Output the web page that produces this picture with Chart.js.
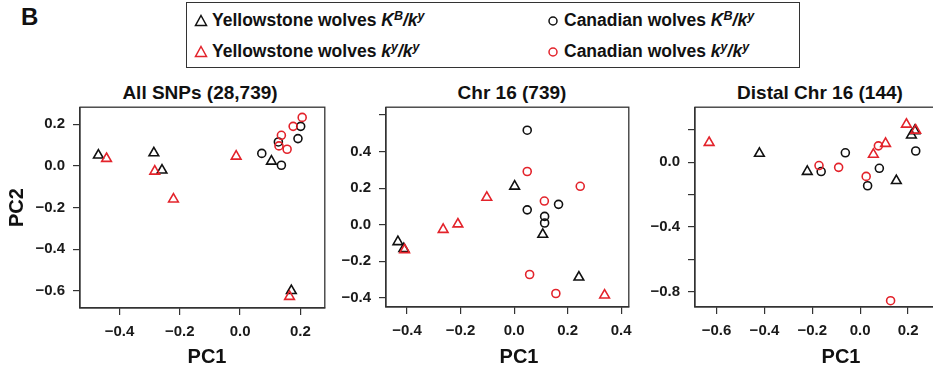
<!DOCTYPE html>
<html>
<head>
<meta charset="utf-8">
<script src="https://cdn.jsdelivr.net/npm/chart.js@4.4.1/dist/chart.umd.min.js"></script>
<style>
  body { margin: 0; width: 933px; height: 372px; overflow: hidden; background: #fff; position: relative;
         font-family: 'Liberation Sans', Arial, sans-serif; color: #111; }
  .abs { position: absolute; }
  .panelTitle { position: absolute; width: 300px; text-align: center; font-weight: bold; font-size: 19px; line-height: 22px; top: 82px; }
  .axisTitle { position: absolute; width: 100px; text-align: center; font-weight: bold; font-size: 20px; line-height: 22px; top: 345px; }
  #letter { left: 21px; top: 5px; font-size: 24px; line-height: 24px; font-weight: bold; }
  #legend { left: 186px; top: 2px; width: 614px; height: 66px; border: 1.5px solid #333; box-sizing: border-box; }
  .item { position: absolute; font-weight: bold; font-size: 17.5px; line-height: 20px; white-space: nowrap; }
  .item svg { position: absolute; left: -18px; top: 4px; }
  .item i sup { font-size: 12.5px; vertical-align: 6px; line-height: 0; }
</style>
</head>
<body>
<div id="letter" class="abs">B</div>
<div id="legend" class="abs">
  <div class="item" style="left:25px; top:7px;">
    <svg width="14" height="13"><polygon points="7,1.5 12.5,11.5 1.5,11.5" fill="none" stroke="#111" stroke-width="1.5"/></svg>
    Yellowstone wolves <i>K<sup>B</sup>/k<sup>y</sup></i></div>
  <div class="item" style="left:25px; top:38px;">
    <svg width="14" height="13"><polygon points="7,1.5 12.5,11.5 1.5,11.5" fill="none" stroke="#e3232b" stroke-width="1.5"/></svg>
    Yellowstone wolves <i>k<sup>y</sup>/k<sup>y</sup></i></div>
  <div class="item" style="left:377px; top:7px;">
    <svg width="14" height="13"><circle cx="7" cy="7" r="4" fill="none" stroke="#111" stroke-width="1.5"/></svg>
    Canadian wolves <i>K<sup>B</sup>/k<sup>y</sup></i></div>
  <div class="item" style="left:377px; top:38px;">
    <svg width="14" height="13"><circle cx="7" cy="7" r="4" fill="none" stroke="#e3232b" stroke-width="1.5"/></svg>
    Canadian wolves <i>k<sup>y</sup>/k<sup>y</sup></i></div>
</div>

<div class="panelTitle" style="left:50px;">All SNPs (28,739)</div>
<div class="panelTitle" style="left:362px;">Chr 16 (739)</div>
<div class="panelTitle" style="left:670px;">Distal Chr 16 (144)</div>

<canvas id="c1" class="abs" width="332" height="272" style="left:0px; top:100px;"></canvas>
<canvas id="c2" class="abs" width="300" height="272" style="left:336px; top:100px;"></canvas>
<canvas id="c3" class="abs" width="304" height="272" style="left:640px; top:100px;"></canvas>

<div class="axisTitle" style="left:157px;">PC1</div>
<div class="axisTitle" style="left:469px;">PC1</div>
<div class="axisTitle" style="left:791px;">PC1</div>

<script>
// ---- data: [PC1, PC2] per sample ----
// All SNPs (28,739)
const allYellowKB = [[-0.470, 0.051], [-0.286, 0.062], [-0.259, -0.021], [0.104, 0.022], [0.170, -0.600]];
const allYellowKY = [[-0.443, 0.035], [-0.283, -0.026], [-0.221, -0.160], [-0.013, 0.046], [0.164, -0.628]];
const allCanadaKB = [[0.072, 0.060], [0.127, 0.115], [0.137, 0.003], [0.192, 0.131], [0.201, 0.190]];
const allCanadaKY = [[0.129, 0.096], [0.137, 0.147], [0.156, 0.080], [0.176, 0.190], [0.206, 0.233]];

// Chr 16 (739)
const chrYellowKB = [[0.002, 0.210], [0.107, -0.054], [-0.434, -0.094], [0.242, -0.288], [-0.412, -0.132]];
const chrYellowKY = [[-0.102, 0.149], [-0.265, -0.027], [-0.210, 0.003], [-0.409, -0.138], [0.338, -0.386]];
const chrCanadaKB = [[0.049, 0.517], [0.166, 0.111], [0.049, 0.081], [0.114, 0.045], [0.114, 0.009]];
const chrCanadaKY = [[0.049, 0.291], [0.247, 0.210], [0.113, 0.129], [0.058, -0.273], [0.156, -0.377]];

// Distal Chr 16 (144)
const distYellowKB = [[-0.421, 0.055], [-0.221, -0.057], [0.151, -0.114], [0.214, 0.168], [0.228, 0.195]];
const distYellowKY = [[-0.631, 0.122], [0.055, 0.049], [0.106, 0.116], [0.193, 0.235], [0.232, 0.198]];
const distCanadaKB = [[-0.163, -0.057], [-0.062, 0.059], [0.031, -0.145], [0.080, -0.037], [0.232, 0.070]];
const distCanadaKY = [[-0.172, -0.020], [-0.090, -0.031], [0.025, -0.087], [0.076, 0.102], [0.127, -0.856]];

// ---- tick values and labels ----
const xTicks1 = [-0.4, -0.2, 0.0, 0.2];
const xLabels1 = ['\u22120.4', '\u22120.2', '0.0', '0.2'];
const yTicks1 = [-0.6, -0.4, -0.2, 0.0, 0.2];
const yLabels1 = ['\u22120.6', '\u22120.4', '\u22120.2', '0.0', '0.2'];

const xTicks2 = [-0.4, -0.2, 0.0, 0.2, 0.4];
const xLabels2 = ['\u22120.4', '\u22120.2', '0.0', '0.2', '0.4'];
const yTicks2 = [-0.4, -0.2, 0.0, 0.2, 0.4, 0.6];
const yLabels2 = ['\u22120.4', '\u22120.2', '0.0', '0.2', '0.4', ''];

const xTicks3 = [-0.6, -0.4, -0.2, 0.0, 0.2];
const xLabels3 = ['\u22120.6', '\u22120.4', '\u22120.2', '0.0', '0.2'];
const yTicks3 = [-0.8, -0.6, -0.4, -0.2, 0.0, 0.2];
const yLabels3 = ['\u22120.8', '', '\u22120.4', '', '0.0', ''];

const BLACK = '#111111';
const RED = '#e3232b';

Chart.defaults.font.family = "'Liberation Sans', Arial, sans-serif";

// draws the full frame around the plot region
const framePlugin = {
  id: 'frame',
  afterDraw(chart) {
    const { ctx, chartArea: a } = chart;
    ctx.save();
    ctx.strokeStyle = '#333';
    ctx.lineWidth = 1.3;
    ctx.strokeRect(a.left, a.top, a.right - a.left, a.bottom - a.top);
    ctx.restore();
  }
};

const pts = arr => arr.map(p => ({ x: p[0], y: p[1] }));

function series(data, color, style) {
  return {
    data: pts(data),
    pointStyle: style,
    pointRadius: style === 'triangle' ? 5.6 : 4,
    borderColor: color,
    backgroundColor: 'rgba(0,0,0,0)',
    borderWidth: 1.6,
    showLine: false
  };
}

function makeChart(id, sets, opt) {
  new Chart(document.getElementById(id), {
    type: 'scatter',
    data: {
      datasets: [
        series(sets[1], RED, 'triangle'),
        series(sets[3], RED, 'circle'),
        series(sets[0], BLACK, 'triangle'),
        series(sets[2], BLACK, 'circle')
      ]
    },
    options: {
      responsive: false,
      animation: false,
      layout: { padding: { top: opt.padTop, right: 4, left: 0, bottom: 0 } },
      plugins: { legend: { display: false }, tooltip: { enabled: false } },
      scales: {
        x: {
          type: 'linear', min: opt.xMin, max: opt.xMax,
          afterBuildTicks: s => { s.ticks = opt.xTicks.map(v => ({ value: v })); },
          afterFit: s => { s.height = opt.xh; s.paddingLeft = 0; s.paddingRight = 0; },
          grid: { drawOnChartArea: false, tickLength: 7, color: '#333', lineWidth: 1.2 },
          border: { display: true, color: '#333', width: 1.2 },
          ticks: { autoSkip: false, maxRotation: 0, padding: 8, color: '#1a1a1a',
                   font: { size: 15, weight: 'bold' }, callback: (v, i) => opt.xLabels[i] },
          title: { display: false }
        },
        y: {
          type: 'linear', min: opt.yMin, max: opt.yMax,
          afterBuildTicks: s => { s.ticks = opt.yTicks.map(v => ({ value: v })); },
          afterFit: s => { s.width = opt.yw; s.paddingTop = 0; s.paddingBottom = 0; },
          grid: { drawOnChartArea: false, tickLength: 7, color: '#333', lineWidth: 1.2 },
          border: { display: true, color: '#333', width: 1.2 },
          ticks: { autoSkip: false, padding: 8, color: '#1a1a1a',
                   font: { size: 15, weight: 'bold' }, callback: (v, i) => opt.yLabels[i] },
          title: { display: opt.yTitle, text: 'PC2', color: '#111', font: { size: 20, weight: 'bold' },
                   padding: { top: 5, bottom: 0 } }
        }
      }
    },
    plugins: [framePlugin]
  });
}

makeChart('c1', [allYellowKB, allYellowKY, allCanadaKB, allCanadaKY], {
  xMin: -0.531, xMax: 0.281, yMin: -0.683, yMax: 0.282,
  xTicks: xTicks1, xLabels: xLabels1, yTicks: yTicks1, yLabels: yLabels1,
  yw: 80, xh: 64, padTop: 7, yTitle: true
});
makeChart('c2', [chrYellowKB, chrYellowKY, chrCanadaKB, chrCanadaKY], {
  xMin: -0.4785, xMax: 0.4284, yMin: -0.451, yMax: 0.643,
  xTicks: xTicks2, xLabels: xLabels2, yTicks: yTicks2, yLabels: yLabels2,
  yw: 50, xh: 65, padTop: 4, yTitle: false
});
makeChart('c3', [distYellowKB, distYellowKY, distCanadaKB, distCanadaKY], {
  xMin: -0.69, xMax: 0.32, yMin: -0.895, yMax: 0.341,
  xTicks: xTicks3, xLabels: xLabels3, yTicks: yTicks3, yLabels: yLabels3,
  yw: 55, xh: 65, padTop: 5, yTitle: false
});
</script>
</body>
</html>
